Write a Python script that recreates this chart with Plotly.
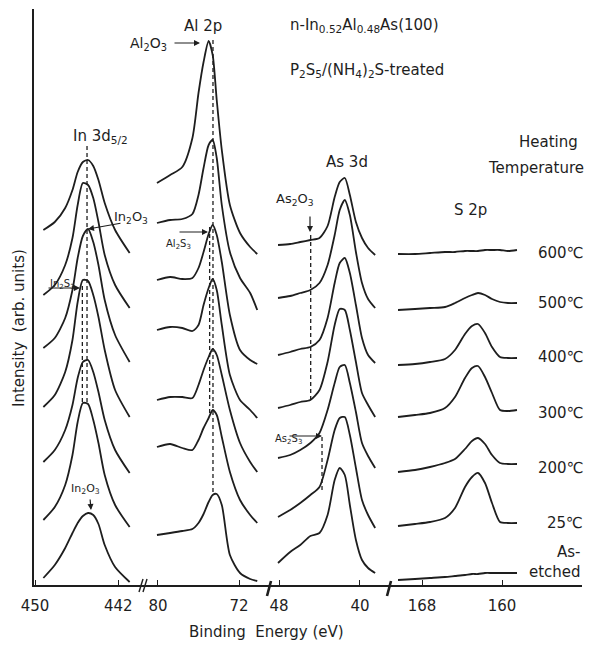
import plotly.graph_objects as go

# ---------------- data ----------------
temps = ["600℃", "500℃", "400℃", "300℃", "200℃", "25℃", "As-etched"]

# In 3d5/2 region
in_be = [449.2, 448.1, 447.1, 446.4, 445.9, 445.4, 444.9, 444.4, 443.9, 443.3, 442.3, 440.9]
in_int = [
    [355, 363, 377, 395, 413, 423, 425, 419, 405, 382, 355, 332],
    [290, 300, 320, 347, 380, 402, 400, 387, 363, 330, 300, 277],
    [237, 247, 267, 295, 327, 349, 356, 343, 320, 285, 250, 223],
    [178, 190, 213, 245, 283, 305, 304, 290, 268, 235, 195, 168],
    [123, 135, 155, 180, 207, 223, 225, 213, 193, 165, 135, 112],
    [65, 78, 100, 130, 163, 182, 181, 165, 142, 110, 80, 58],
    [7, 20, 37, 52, 62, 69, 72, 70, 61, 40, 18, 3],
]

# Al 2p region
al_be = [80.1, 78.8, 77.6, 76.6, 76.0, 75.5, 75.0, 74.6, 74.2, 73.7, 72.9, 71.9, 70.9, 70.2]
al_int = [
    [402, 410, 418, 447, 492, 523, 544, 530, 485, 435, 380, 352, 338, 331],
    [362, 365, 366, 371, 390, 417, 440, 445, 427, 380, 333, 307, 292, 275],
    [305, 308, 306, 307, 317, 333, 351, 360, 350, 323, 270, 235, 225, 221],
    [255, 258, 257, 254, 260, 280, 297, 306, 295, 260, 210, 185, 175, 167],
    [185, 188, 188, 187, 200, 215, 228, 236, 230, 210, 175, 142, 123, 113],
    [138, 141, 137, 135, 145, 157, 167, 175, 170, 148, 113, 85, 70, 62],
    [50, 52, 54, 56, 62, 71, 83, 90, 91, 80, 30, 12, 6, 4],
]

# As 3d region
as_be = [48.1, 46.9, 45.9, 44.9, 44.0, 43.2, 42.5, 42.0, 41.5, 41.0, 40.4, 39.8, 39.2, 38.5]
as_int = [
    [340, 341, 343, 345, 347, 359, 388, 403, 407, 390, 363, 347, 337, 330],
    [287, 289, 292, 295, 302, 320, 350, 375, 385, 370, 333, 302, 286, 277],
    [230, 233, 236, 238, 245, 267, 302, 322, 327, 312, 280, 247, 230, 222],
    [177, 180, 183, 185, 195, 223, 260, 276, 275, 255, 223, 192, 180, 168],
    [127, 130, 135, 142, 152, 175, 202, 218, 220, 202, 173, 142, 129, 117],
    [68, 75, 82, 90, 98, 125, 155, 167, 168, 150, 117, 85, 70, 57],
    [22, 33, 40, 49, 52, 70, 105, 117, 110, 80, 45, 25, 17, 12],
]

# S 2p region
s_be = [170.4, 168.7, 167.2, 165.7, 164.7, 163.7, 163.0, 162.4, 161.7, 161.0, 160.2, 159.4, 158.5]
s_int = [
    [331, 331, 332, 333, 333, 334, 334, 334, 335, 335, 335, 334, 335],
    [275, 276, 277, 278, 282, 287, 290, 292, 290, 286, 283, 282, 282],
    [220, 221, 223, 226, 235, 251, 259, 261, 252, 238, 228, 227, 227],
    [168, 170, 172, 177, 188, 207, 217, 219, 208, 192, 175, 174, 175],
    [113, 115, 118, 122, 126, 136, 144, 147, 141, 130, 122, 121, 121],
    [59, 61, 63, 67, 77, 98, 108, 112, 102, 82, 63, 62, 62],
    [5, 6, 7, 8, 9, 10, 11, 11, 12, 12, 12, 12, 12],
]

# chemical-state reference lines: (axis, binding energy, intensity from, intensity to)
ref_names = ["In2O3", "In2S3", "Al2O3", "Al2S3", "As2O3", "As2S3"]
ref_axis = ["x", "x", "x2", "x2", "x3", "x3"]
ref_be = [445.0, 445.45, 74.57, 74.9, 44.87, 43.75]
ref_lo = [183, 183, 93, 172, 185, 95]
ref_hi = [440, 300, 548, 360, 352, 148]

# axis ticks
in_ticks = [450, 442]
al_ticks = [80, 72]
as_ticks = [48, 40]
s_ticks = [168, 160]

# ---------------- figure ----------------
W, H = 592, 648
ML, MR, MT, MB = 34, 10, 9, 63
PW, PH = W - ML - MR, H - MT - MB

def px(x):
    return (x - ML) / PW

def py(y):
    return (H - MB - y) / PH

FONT = "DejaVu Sans"
INK = "#1e1e1e"

fig = go.Figure()

panels = [("x", in_be, in_int), ("x2", al_be, al_int), ("x3", as_be, as_int), ("x4", s_be, s_int)]
for ax, be, ints in panels:
    for t, ys in zip(temps, ints):
        fig.add_trace(go.Scatter(
            x=be, y=ys, xaxis=ax, yaxis="y", mode="lines", name=t,
            line=dict(color=INK, width=1.8, shape="spline", smoothing=0.7),
            showlegend=False, hoverinfo="skip"))

for n, ax, b, lo, hi in zip(ref_names, ref_axis, ref_be, ref_lo, ref_hi):
    fig.add_trace(go.Scatter(
        x=[b, b], y=[lo, hi], xaxis=ax, yaxis="y", mode="lines", name=n,
        line=dict(color=INK, width=1.3, dash="4px,3px"),
        showlegend=False, hoverinfo="skip"))

edges = [ML, 144, 269, 388, W - MR]
ranges = [[450.1, 439.52], [81.38, 69.04], [48.99, 37.23], [171.4, 152.0]]
ticks = [in_ticks, al_ticks, as_ticks, s_ticks]
axcommon = dict(showline=True, linecolor=INK, linewidth=1.6, ticks="inside",
                ticklen=5, tickwidth=1.2, tickcolor=INK, showgrid=False,
                zeroline=False, anchor="y", ticklabelstandoff=6,
                tickfont=dict(family=FONT, size=15, color=INK))
for i in range(4):
    key = "xaxis" if i == 0 else f"xaxis{i+1}"
    fig.update_layout(**{key: dict(domain=[px(edges[i]), px(edges[i + 1])],
                                   range=ranges[i], tickvals=ticks[i],
                                   ticktext=[str(v) for v in ticks[i]], **axcommon)})

fig.update_layout(
    yaxis=dict(range=[0, PH], showline=True, linecolor=INK, linewidth=1.6,
               showticklabels=False, ticks="", showgrid=False, zeroline=False),
    width=W, height=H, margin=dict(l=ML, r=MR, t=MT, b=MB),
    plot_bgcolor="white", paper_bgcolor="white", showlegend=False,
)

# axis-break marks
shapes = []
for (x0, y0, x1, y1, w) in [(139, 592, 143, 579, 1.4), (143, 592, 147, 579, 1.4),
                            (267, 596, 271, 581, 2.6), (387, 596, 391, 581, 2.6)]:
    shapes.append(dict(type="line", xref="paper", yref="paper", x0=px(x0), y0=py(y0),
                       x1=px(x1), y1=py(y1), line=dict(color=INK, width=w)))
fig.update_layout(shapes=shapes)

ann = []
def text(x, y, s, size=15, xanchor="center", angle=0):
    ann.append(dict(x=px(x), y=py(y), xref="paper", yref="paper", text=s, showarrow=False,
                    xanchor=xanchor, yanchor="middle", textangle=angle,
                    font=dict(family=FONT, size=size, color=INK)))

def arrow(x, y, ax, ay, head=2):
    ann.append(dict(x=px(x), y=py(y), xref="paper", yref="paper", text="", showarrow=True,
                    ax=ax, ay=ay, arrowhead=head, arrowsize=1, arrowwidth=1.2,
                    arrowcolor=INK, standoff=0, startstandoff=0))

text(100, 136, "In 3d<sub>5/2</sub>", 15)
text(203, 26, "Al 2p", 15)
text(148, 44, "Al<sub>2</sub>O<sub>3</sub>", 14)
arrow(200, 43, -27, 0)
text(288, 25, "n-In<sub>0.52</sub>Al<sub>0.48</sub>As(100)", 15, "left")
text(288, 70, "P<sub>2</sub>S<sub>5</sub>/(NH<sub>4</sub>)<sub>2</sub>S-treated", 15, "left")
text(548, 142, "Heating", 15)
text(536, 168, "Temperature", 15)
text(347, 162, "As 3d", 15)
text(470, 210, "S 2p", 15)
text(295, 199, "As<sub>2</sub>O<sub>3</sub>", 13)
arrow(310, 232, 0, -17)
text(288, 439, "As<sub>2</sub>S<sub>3</sub>", 10)
arrow(322, 436, -34, 0)
text(131, 217, "In<sub>2</sub>O<sub>3</sub>", 13)
arrow(88, 229, 34, -6)
text(62, 284, "In<sub>2</sub>S<sub>3</sub>", 10)
arrow(80, 288, -33, 0)
text(85, 489, "In<sub>2</sub>O<sub>3</sub>", 11)
arrow(91, 510, -1, -12)
text(178, 244, "Al<sub>2</sub>S<sub>3</sub>", 10)
arrow(208, 232, -30, 0)

label_y = [253, 303, 357, 413, 468, 523]
for t, yy in zip(temps[:6], label_y):
    text(585, yy, t, 15, "right")
text(583, 552, "As-", 15, "right")
text(583, 572, "etched", 15, "right")

text(19, 328, "Intensity  (arb. units)", 15, angle=-90)
text(266, 632, "Binding  Energy (eV)", 15)

fig.update_layout(annotations=ann)
fig.write_html("out.html")
